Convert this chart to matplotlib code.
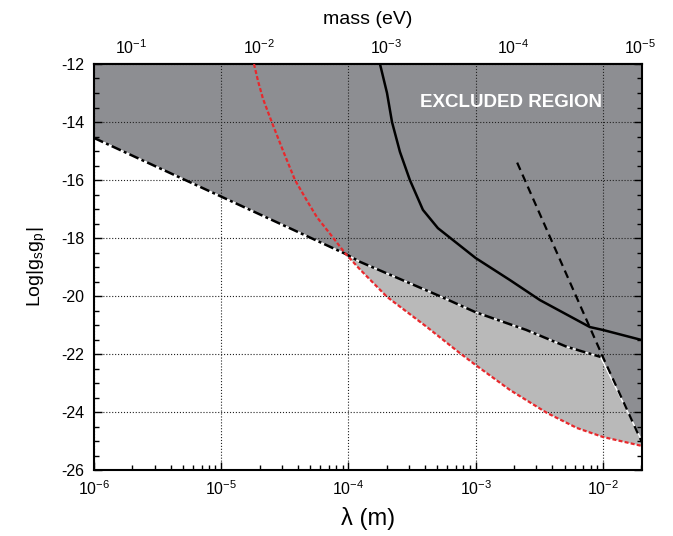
import numpy as np
import matplotlib
matplotlib.use("Agg")
import matplotlib.pyplot as plt
from matplotlib.ticker import LogLocator, FixedLocator, NullFormatter, MultipleLocator

plt.rcParams["font.family"] = ["Liberation Sans", "DejaVu Sans"]
plt.rcParams["mathtext.fontset"] = "custom"
plt.rcParams["mathtext.rm"] = "Liberation Sans"
plt.rcParams["mathtext.it"] = "Liberation Sans:italic"
plt.rcParams["mathtext.bf"] = "Liberation Sans:bold"
plt.rcParams["axes.unicode_minus"] = False

HBARC = 1.9733e-7  # eV * m

# -------------------------------
# Data
# -------------------------------
# dash-dot limit (upper edge of the light grey band)
bound_lam = [1.0e-6, 9.5e-5, 1.23e-4, 5.2e-4, 1.0e-3, 2.5e-3, 5.2e-3, 9.6e-3]
bound_y = [-14.55, -18.55, -18.82, -20.0, -20.56, -21.17, -21.75, -22.1]

# right-hand closing edge of the excluded region
edge_lam = [9.6e-3, 2.03e-2]
edge_y = [-22.1, -25.0]

# red dashed curve
red_lam = [1.81e-5, 1.95e-5, 2.13e-5, 2.51e-5, 3.10e-5, 3.80e-5, 4.70e-5,
           5.65e-5, 7.83e-5, 9.4e-5, 1.23e-4, 2.01e-4, 4.14e-4, 7.52e-4,
           1.0e-3, 1.86e-3, 3.63e-3, 6.25e-3, 1.0e-2, 2.03e-2]
red_y = [-12.0, -12.6, -13.2, -14.03, -15.05, -16.0, -16.7,
         -17.28, -18.07, -18.52, -19.08, -20.03, -21.07, -21.97,
         -22.38, -23.24, -24.03, -24.55, -24.86, -25.17]

# solid black curve
solid_lam = [1.77e-4, 2.01e-4, 2.20e-4, 2.54e-4, 3.04e-4, 3.85e-4, 5.05e-4,
             1.0e-3, 1.86e-3, 3.2e-3, 7.9e-3, 1.0e-2, 2.03e-2]
solid_y = [-12.0, -13.0, -14.0, -15.03, -16.0, -17.03, -17.66,
           -18.69, -19.45, -20.14, -21.07, -21.17, -21.52]

# black dashed line
dash_lam = [2.12e-3, 1.0e-2, 2.03e-2]
dash_y = [-15.4, -22.1, -25.05]

mass_ticks = [1e-1, 1e-2, 1e-3, 1e-4, 1e-5]


def lam_to_mass(x):
    x = np.asarray(x, dtype=float)
    with np.errstate(divide="ignore", invalid="ignore"):
        return HBARC / x


# -------------------------------
# Plot setup
# -------------------------------
fig = plt.figure(figsize=(6.73, 5.36), dpi=100)
ax = fig.add_axes([0.1397, 0.1231, 0.8142, 0.7575])
ax.set_xscale("log")
ax.set_xlim(1e-6, 2.03e-2)
ax.set_ylim(-26, -12)

# dark grey excluded region
dark_x = [bound_lam[0]] + bound_lam + [edge_lam[1], edge_lam[1]]
dark_y = [-12] + bound_y + [edge_y[1], -12]
ax.fill(dark_x, dark_y, color="#8d8e92", lw=0, zorder=0.5)

# light grey band between the red curve and the limit
i0 = red_lam.index(9.4e-5)
light_x = red_lam[i0:] + [edge_lam[1], edge_lam[0]] + bound_lam[:0:-1]
light_y = red_y[i0:] + [edge_y[1], edge_y[0]] + bound_y[:0:-1]
ax.fill(light_x, light_y, color="#b9b9b9", lw=0, zorder=0.6)

ax.plot(edge_lam, edge_y, color="white", lw=1.0, zorder=2)
ax.plot(bound_lam, bound_y, color="white", lw=1.0, zorder=2)
ax.plot(bound_lam, bound_y, color="black", lw=1.8,
        dashes=(4, 1.3, 1.2, 1.3), zorder=3)
ax.plot(red_lam, red_y, color="#e8282c", lw=1.6, dashes=(1.8, 1.0), zorder=3)
ax.plot(solid_lam, solid_y, color="black", lw=1.8, zorder=3)
ax.plot(dash_lam, dash_y, color="black", lw=1.6, dashes=(3.6, 2.3), zorder=3)

ax.text(0.761, 0.906, "EXCLUDED REGION", transform=ax.transAxes,
        ha="center", va="center", color="white", fontsize=13.5,
        fontweight="bold", zorder=4)

# -------------------------------
# Axes, ticks, grid
# -------------------------------
ax.grid(True, which="major", color="#222222", linestyle=":", linewidth=0.8)
ax.xaxis.set_major_locator(LogLocator(base=10))
ax.xaxis.set_minor_locator(LogLocator(base=10, subs=np.arange(2, 10)))
ax.xaxis.set_minor_formatter(NullFormatter())
ax.yaxis.set_major_locator(MultipleLocator(2))
ax.yaxis.set_minor_locator(MultipleLocator(0.5))
ax.tick_params(which="both", direction="in", top=False, right=True,
               labelsize=11.5, width=1.0, pad=7)
ax.tick_params(which="major", length=6)
ax.tick_params(which="minor", length=3.5)
for sp in ax.spines.values():
    sp.set_linewidth(1.5)

ax.set_xlabel("λ (m)", fontsize=17, labelpad=6)
ax.set_ylabel(r"Log|g$_\mathrm{s}$g$_\mathrm{p}$|", fontsize=14, labelpad=9)

secax = ax.secondary_xaxis("top", functions=(lam_to_mass, lam_to_mass))
secax.xaxis.set_major_locator(FixedLocator(mass_ticks))
secax.xaxis.set_minor_locator(LogLocator(base=10, subs=np.arange(2, 10)))
secax.xaxis.set_minor_formatter(NullFormatter())
secax.tick_params(which="both", direction="in", labelsize=11.5, width=1.0, pad=5)
secax.tick_params(which="major", length=7)
secax.tick_params(which="minor", length=4)
secax.spines["top"].set_linewidth(1.5)
secax.set_xlabel("mass (eV)", fontsize=14, labelpad=10)

fig.savefig("out.png", dpi=100)
